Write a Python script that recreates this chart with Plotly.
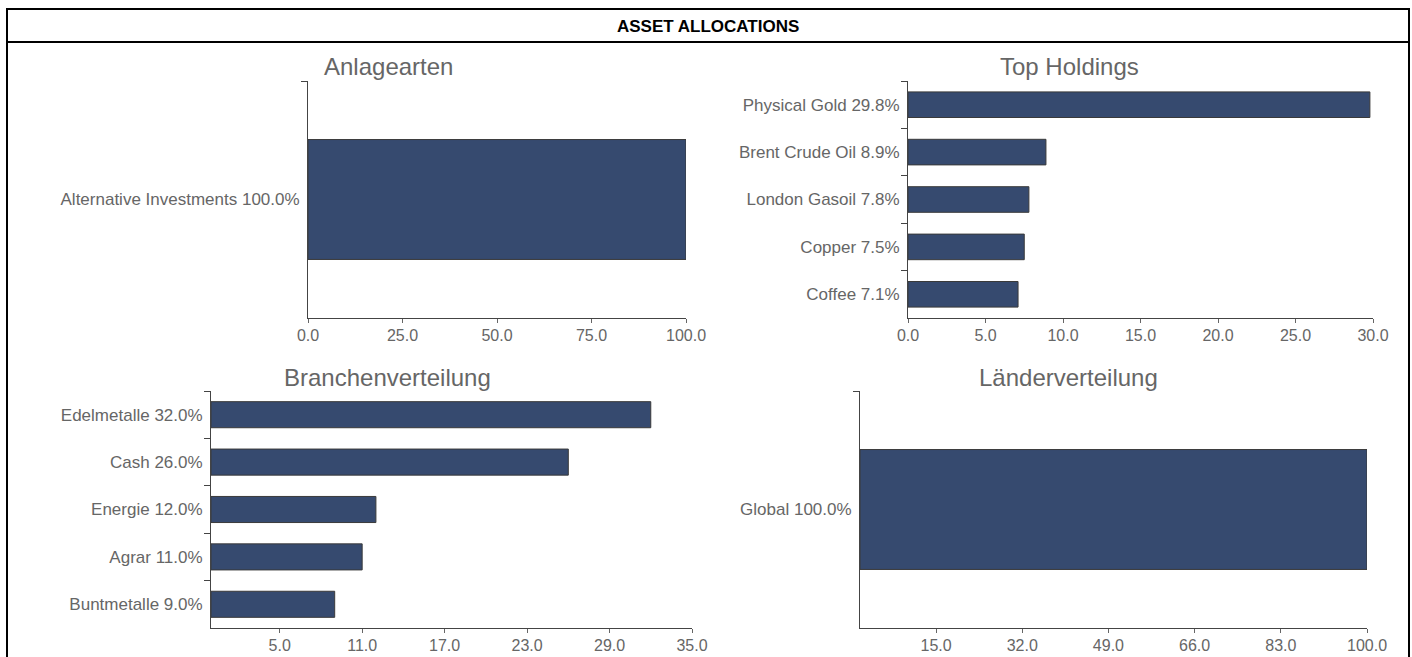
import plotly.graph_objects as go

# ---------------- data ----------------
anlage_names = ["Alternative Investments"]
anlage_values = [100.0]
anlage_ticks = [0, 25, 50, 75, 100]

holding_names = ["Physical Gold", "Brent Crude Oil", "London Gasoil", "Copper", "Coffee"]
holding_values = [29.8, 8.9, 7.8, 7.5, 7.1]
holding_ticks = [0, 5, 10, 15, 20, 25, 30]

branche_names = ["Edelmetalle", "Cash", "Energie", "Agrar", "Buntmetalle"]
branche_values = [32.0, 26.0, 12.0, 11.0, 9.0]
branche_ticks = [5, 11, 17, 23, 29, 35]

land_names = ["Global"]
land_values = [100.0]
land_ticks = [15, 32, 49, 66, 83, 100]

panel_titles = ["Anlagearten", "Top Holdings", "Branchenverteilung", "Länderverteilung"]
main_title = "ASSET ALLOCATIONS"

# ---------------- layout helpers ----------------
W, H = 1412, 657
FONT = "Liberation Sans, Arial, sans-serif"
BAR = "#364a6f"
GRAY = "#666666"


def px(x):
    return x / W


def py(y):
    return 1 - y / H


panels = [
    # names, values, ticks, range, x-domain px, y-domain px, bar width
    (anlage_names, anlage_values, anlage_ticks, [0, 100], (308, 686), (81, 318), 0.506),
    (holding_names, holding_values, holding_ticks, [0, 30], (908, 1373), (81, 318), 0.54),
    (branche_names, branche_values, branche_ticks, [0, 35], (211, 692), (391, 628), 0.55),
    (land_names, land_values, land_ticks, [0, 100], (860, 1367), (391, 628), 0.506),
]
title_pos = [(388, 66), (1069, 66), (387, 377), (1068, 377)]

fig = go.Figure()
layout = dict(
    width=W, height=H,
    margin=dict(l=0, r=0, t=0, b=0, pad=0, autoexpand=False),
    paper_bgcolor="white", plot_bgcolor="white",
    showlegend=False,
    font=dict(family=FONT, color=GRAY),
)

for i, (names, vals, ticks, rng, xd, yd, bw) in enumerate(panels):
    k = "" if i == 0 else str(i + 1)
    labels = [f"{n} {v:.1f}%" for n, v in zip(names, vals)]
    fig.add_trace(go.Bar(
        x=vals, y=labels, orientation="h",
        xaxis="x" + k, yaxis="y" + k,
        width=bw,
        marker=dict(color=BAR, line=dict(color="#3a3a3a", width=1)),
        hoverinfo="skip",
    ))
    layout["xaxis" + k] = dict(
        domain=[px(xd[0]), px(xd[1])], anchor="y" + k,
        range=rng, tickvals=ticks, ticktext=[f"{t:.1f}" for t in ticks],
        showgrid=False, zeroline=False, automargin=False,
        showline=True, linecolor="#444444", linewidth=1,
        ticks="outside", ticklen=4, tickcolor="#666666",
        ticklabelstandoff=-1,
        tickfont=dict(family=FONT, size=16, color=GRAY),
    )
    layout["yaxis" + k] = dict(
        domain=[py(yd[1]), py(yd[0])], anchor="x" + k,
        type="category", categoryorder="array", categoryarray=labels,
        autorange="reversed", automargin=False,
        showgrid=False, zeroline=False,
        showline=True, linecolor="#444444", linewidth=1,
        ticks="outside", ticklen=6, tickcolor="#444444", tickson="boundaries",
        ticklabelstandoff=4,
        tickfont=dict(family=FONT, size=17, color=GRAY),
    )

annotations = []
for t, (x, y) in zip(panel_titles, title_pos):
    annotations.append(dict(
        text=t, x=px(x), y=py(y), xref="paper", yref="paper",
        xanchor="center", yanchor="middle", showarrow=False,
        font=dict(family=FONT, size=24, color=GRAY),
    ))
annotations.append(dict(
    text=f"<b>{main_title}</b>", x=px(708), y=py(26), xref="paper", yref="paper",
    xanchor="center", yanchor="middle", showarrow=False,
    font=dict(family=FONT, size=17, color="black"),
))
layout["annotations"] = annotations

layout["shapes"] = [
    dict(type="rect", xref="paper", yref="paper",
         x0=px(7), x1=px(1409), y0=py(680), y1=py(9),
         line=dict(color="black", width=2), fillcolor="rgba(0,0,0,0)", layer="above"),
    dict(type="line", xref="paper", yref="paper",
         x0=px(7), x1=px(1409), y0=py(42), y1=py(42),
         line=dict(color="black", width=2), layer="above"),
]

fig.update_layout(**layout)

fig.write_html(
    "out.html",
    config={"displayModeBar": False},
    post_script="document.body.style.margin='0';document.body.style.overflow='hidden';",
)
